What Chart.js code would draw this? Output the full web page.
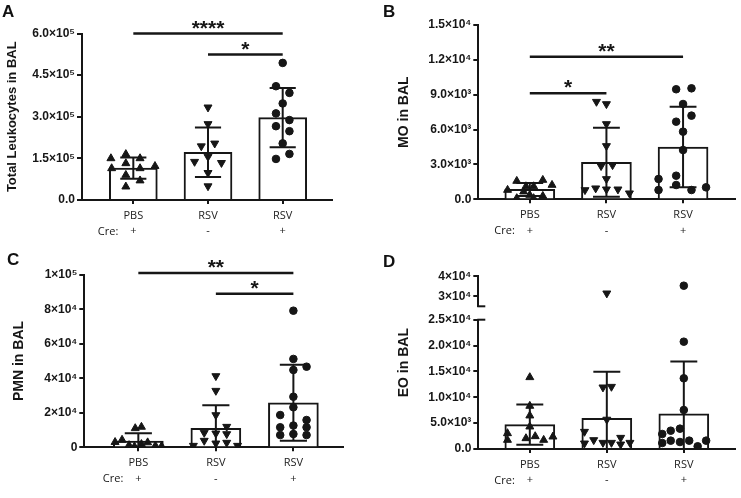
<!DOCTYPE html>
<html lang="en">
<head>
<meta charset="utf-8">
<title>BAL cell counts</title>
<script src="https://cdn.jsdelivr.net/npm/chart.js@4.4.1/dist/chart.umd.min.js"></script>
<style>
  html, body { margin: 0; padding: 0; background: #fff; }
  #fig { position: relative; width: 741px; height: 498px; overflow: hidden; }
  .panel { position: absolute; }
  .letter { position: absolute; font: bold 17px/17px "Liberation Sans", Arial, sans-serif; color: #111; }
</style>
</head>
<body>
<div id="fig">
  <div class="panel" style="left:0;top:0;width:370px;height:248px"><canvas id="chartA"></canvas></div>
  <div class="panel" style="left:370px;top:0;width:371px;height:248px"><canvas id="chartB"></canvas></div>
  <div class="panel" style="left:0;top:248px;width:370px;height:250px"><canvas id="chartC"></canvas></div>
  <div class="panel" style="left:370px;top:248px;width:371px;height:250px"><canvas id="chartD"></canvas></div>
  <div class="letter" style="left:2px;top:3px">A</div>
  <div class="letter" style="left:383px;top:3px">B</div>
  <div class="letter" style="left:7px;top:251px">C</div>
  <div class="letter" style="left:383px;top:253px">D</div>
</div>
<script>
// groups on the x axis
const groupNames = ["PBS", "RSV", "RSV"];
const creRow = ["+", "-", "+"];

// A: total leukocytes
const leukoMean = [115000, 172000, 297000];
const leukoSD = [38000, 89000, 107000];
const leukoPBS = [150000, 165000, 150000, 132000, 114000, 114000, 122000, 90000, 70000, 48000];
const leukoPBSJit = [-0.30, -0.10, 0.09, -0.10, -0.29, 0.09, 0.29, -0.10, 0.09, -0.10];
const leukoRSV = [334000, 274000, 194000, 204000, 156000, 138000, 134000, 98000, 50000];
const leukoRSVJit = [0, 0, -0.09, 0.09, 0, -0.18, 0.18, 0, 0];
const leukoRSVCre = [494000, 410000, 386000, 348000, 312000, 288000, 266000, 248000, 204000, 148000, 166000];
const leukoRSVCreJit = [0, -0.09, 0.09, 0, -0.09, 0.09, -0.09, 0.09, 0, -0.09, 0.09];
const leukoTicks = [0, 150000, 300000, 450000, 600000];
const leukoTickLabels = ["0.0", "1.5×10⁵", "3.0×10⁵", "4.5×10⁵", "6.0×10⁵"];
const leukoSig = [[0, 2, 600000, "****"], [1, 2, 524000, "*"]];

// B: MO
const moMean = [850, 3190, 4500];
const moSD = [560, 2970, 3470];
const moPBS = [1575, 1660, 1230, 1110, 1110, 800, 370, 86, 86, 280, 660];
const moPBSJit = [-0.17, 0.17, 0.29, -0.05, 0.05, -0.29, 0, -0.17, 0.05, 0.17, -0.08];
const moRSV = [8400, 8200, 6480, 4590, 2870, 2950, 1750, 800, 950, 860, 860, 520];
const moRSVJit = [-0.13, 0, 0, 0, -0.07, 0.08, 0, -0.28, -0.14, 0, 0.15, 0.30];
const moRSVCre = [9470, 9550, 8200, 7200, 6680, 5820, 4240, 1750, 2030, 1230, 800, 800, 1030];
const moRSVCreJit = [-0.09, 0.11, 0, 0.11, -0.09, 0, 0, -0.32, -0.09, -0.09, -0.32, 0.11, 0.30];
const moTicks = [0, 3000, 6000, 9000, 12000, 15000];
const moTickLabels = ["0.0", "3.0×10³", "6.0×10³", "9.0×10³", "1.2×10⁴", "1.5×10⁴"];
const moSig = [[0, 2, 12270, "**"], [0, 1, 9120, "*"]];

// C: PMN
const pmnMean = [3650, 11000, 25800];
const pmnSD = [4450, 13300, 22000];
const pmnPBS = [11000, 11800, 4300, 3000, 2800, 1800, 1200, 900, 600, 400];
const pmnPBSJit = [-0.04, 0.04, -0.21, -0.30, 0.12, 0.04, -0.12, 0.22, 0.30, -0.05];
const pmnRSV = [41300, 32800, 18700, 11950, 8460, 8080, 7700, 3860, 2700, 2300, 950, 950];
const pmnRSVJit = [0, 0, 0, 0.14, -0.15, 0, 0.14, -0.15, 0.14, 0, -0.29, 0.28];
const pmnRSVCre = [79150, 51200, 44800, 46700, 29300, 23200, 18700, 15800, 11600, 12600, 11600, 7100, 7700, 7100];
const pmnRSVCreJit = [0, 0, 0, 0.17, 0, 0, -0.17, 0.17, -0.17, 0, 0.17, -0.17, 0, 0.17];
const pmnTicks = [0, 20000, 40000, 60000, 80000, 100000];
const pmnTickLabels = ["0", "2×10⁴", "4×10⁴", "6×10⁴", "8×10⁴", "1×10⁵"];
const pmnSig = [[0, 2, 101000, "**"], [1, 2, 89000, "*"]];

// D: EO (broken axis)
const eoMean = [4700, 5930, 6800];
const eoSD = [3900, 9000, 10100];
const eoPBS = [13860, 8320, 6450, 4320, 3030, 1740, 2060, 2450, 1740, 2380];
const eoPBSJit = [0, 0, 0, 0, -0.29, -0.29, -0.05, 0.07, 0.18, 0.30];
const eoRSV = [31500, 11930, 12050, 5700, 3350, 1740, 1220, 1220, 2190, 900, 1220, 1100];
const eoRSVJit = [0, -0.05, 0.06, 0, -0.29, -0.17, -0.05, 0.06, 0.18, 0.18, 0.30, -0.29];
const eoRSVCre = [35300, 20750, 13670, 7540, 2900, 3540, 3930, 1160, 1610, 1350, 1610, 1610, 520];
const eoRSVCreJit = [0, 0, 0, 0, -0.28, -0.17, -0.05, -0.28, -0.17, -0.05, 0.07, 0.29, 0.18];
const eoTicks = [0, 5000, 10000, 15000, 20000, 25000];
const eoTickLabels = ["0.0", "5.0×10³", "1.0×10⁴", "1.5×10⁴", "2.0×10⁴", "2.5×10⁴"];
const eoTopTicks = [30000, 40000];
const eoTopTickLabels = ["3×10⁴", "4×10⁴"];

const INK = "#161616";
const markers = [
  { style: "triangle", rot: 0, r: 4.6 },
  { style: "triangle", rot: 180, r: 4.6 },
  { style: "circle", rot: 0, r: 3.8 }
];

Chart.defaults.font.family = '"Liberation Sans", Arial, sans-serif';
Chart.defaults.color = INK;

const tickMarks = { drawOnChartArea: false, drawTicks: true, tickLength: 5, color: INK, lineWidth: 2, offset: false };
const axisLine = { display: true, color: INK, width: 2 };
const hidden = {
  type: "linear", position: "left", display: true, min: 0, max: 1,
  ticks: { display: false }, grid: { display: false, drawTicks: false }, border: { display: false }
};

// stars above the brackets, the "Cre:" row label and the axis break marks
const decor = {
  id: "decor",
  afterDatasetsDraw(chart, args, opts) {
    const { ctx, chartArea, scales } = chart;
    const x = scales.x, y = scales.y;
    ctx.save();
    ctx.fillStyle = INK;
    ctx.font = 'bold 21px "Liberation Sans", Arial, sans-serif';
    ctx.textAlign = "center";
    ctx.textBaseline = "alphabetic";
    (opts.sig || []).forEach(s => {
      const px = (x.getPixelForValue(s[0]) + x.getPixelForValue(s[1])) / 2;
      ctx.fillText(s[3], px, y.getPixelForValue(s[2]) + 1);
    });
    ctx.font = '11px "Open Sans", sans-serif';
    ctx.textAlign = "right";
    ctx.textBaseline = "middle";
    ctx.fillText("Cre:", x.getPixelForValue(0) - 15, chartArea.bottom + 32);
    if (scales.yTop) {
      const ax = chartArea.left;
      ctx.strokeStyle = INK;
      ctx.lineWidth = 2;
      [scales.yTop.bottom, y.top].forEach(py => {
        ctx.beginPath();
        ctx.moveTo(ax - 1, py);
        ctx.lineTo(ax + 7, py);
        ctx.stroke();
      });
    }
    ctx.restore();
  }
};

function errorBars(means, sds) {
  const cap = 0.175, pts = [];
  means.forEach((m, i) => {
    const hi = m + sds[i], lo = Math.max(m - sds[i], 0);
    pts.push({ x: i, y: lo }, { x: i, y: hi }, { x: i, y: null });
    pts.push({ x: i - cap, y: hi }, { x: i + cap, y: hi }, { x: i, y: null });
    if (m - sds[i] > 0) pts.push({ x: i - cap, y: lo }, { x: i + cap, y: lo }, { x: i, y: null });
  });
  return pts;
}

function yAxis(vals, labels, extra) {
  return Object.assign({
    type: "linear", position: "left", min: vals[0], max: vals[vals.length - 1],
    afterBuildTicks: s => { s.ticks = vals.map(v => ({ value: v })); },
    ticks: {
      autoSkip: false, padding: 2, color: INK, font: { size: 12, weight: "bold" },
      callback: v => labels[vals.indexOf(v)]
    },
    grid: tickMarks, border: axisLine
  }, extra);
}

function makePanel(id, p) {
  const datasets = [
    { type: "bar", data: p.means.map((m, i) => ({ x: i, y: m })), yAxisID: "y",
      backgroundColor: "#fff", borderColor: INK, borderWidth: 2, barThickness: p.barWidth, order: 4 },
    { type: "line", data: errorBars(p.means, p.sds), yAxisID: "y",
      borderColor: INK, borderWidth: 2, pointRadius: 0, order: 2 }
  ];
  p.groups.forEach((g, gi) => {
    const lower = [], upper = [];
    g[0].forEach((v, k) => {
      const pt = { x: gi + g[1][k], y: v };
      (p.topMin && v > p.topMin ? upper : lower).push(pt);
    });
    [[lower, "y"], [upper, "yTop"]].forEach(([pts, axis]) => {
      if (!pts.length) return;
      datasets.push({
        type: "scatter", data: pts, yAxisID: axis, order: 1,
        pointStyle: markers[gi].style, pointRotation: markers[gi].rot, pointRadius: markers[gi].r,
        pointBackgroundColor: INK, pointBorderColor: INK, pointBorderWidth: 1
      });
    });
  });
  (p.sig || []).forEach(s => datasets.push({
    type: "line", data: [{ x: s[0], y: s[2] }, { x: s[1], y: s[2] }], yAxisID: "y",
    borderColor: INK, borderWidth: 2.5, pointRadius: 0, clip: false, order: 0
  }));

  const a = p.area;
  const title = { display: true, text: p.title, color: INK,
    font: { size: p.titleSize, weight: "bold" }, padding: { top: p.titlePad, bottom: 0 } };
  const scales = {
    x: {
      type: "linear", min: p.xMin, max: p.xMax, offset: false, z: 1,
      afterBuildTicks: s => { s.ticks = groupNames.map((_, i) => ({ value: i })); },
      afterFit: s => { s.height = p.h - a.bottom; },
      ticks: {
        autoSkip: false, maxRotation: 0, padding: 4, color: "#222",
        font: { family: '"Open Sans", sans-serif', size: 11, lineHeight: 1.4 },
        callback: v => [groupNames[v], creRow[v]]
      },
      grid: Object.assign({}, tickMarks, { tickLength: 4 }), border: axisLine
    }
  };
  if (p.topMin) {
    const w = a.left - p.titleWidth;
    scales.y = yAxis(p.ticks, p.tickLabels, { stack: "d", stackWeight: p.weights[2], afterFit: s => { s.width = w; } });
    scales.yGap = Object.assign({}, hidden, { stack: "d", stackWeight: p.weights[1], afterFit: s => { s.width = w; } });
    scales.yTop = yAxis(p.topTicks, p.topTickLabels, { min: p.topMin, stack: "d", stackWeight: p.weights[0], afterFit: s => { s.width = w; } });
    scales.yTitle = Object.assign({}, hidden, { title: title, afterFit: s => { s.width = p.titleWidth; } });
  } else {
    scales.y = yAxis(p.ticks, p.tickLabels, { title: title, afterFit: s => { s.width = a.left; } });
  }

  new Chart(document.getElementById(id), {
    type: "bar",
    data: { datasets: datasets },
    options: {
      responsive: true, maintainAspectRatio: false, animation: false, events: [],
      layout: { padding: { left: 0, top: a.top, right: p.w - a.right, bottom: 0 } },
      scales: scales,
      plugins: { legend: { display: false }, tooltip: { enabled: false }, decor: { sig: p.sig } }
    },
    plugins: [decor]
  });
}

makePanel("chartA", {
  w: 370, h: 248, area: { left: 82, top: 33.5, right: 332, bottom: 200 },
  xMin: -0.687, xMax: 2.66, barWidth: 48,
  means: leukoMean, sds: leukoSD,
  groups: [[leukoPBS, leukoPBSJit], [leukoRSV, leukoRSVJit], [leukoRSVCre, leukoRSVCreJit]],
  ticks: leukoTicks, tickLabels: leukoTickLabels, sig: leukoSig,
  title: "Total Leukocytes in BAL", titleSize: 13, titlePad: 4.7
});

makePanel("chartB", {
  w: 371, h: 248, area: { left: 108.3, top: 25, right: 370, bottom: 199.3 },
  xMin: -0.672, xMax: 2.683, barWidth: 50,
  means: moMean, sds: moSD,
  groups: [[moPBS, moPBSJit], [moRSV, moRSVJit], [moRSVCre, moRSVCreJit]],
  ticks: moTicks, tickLabels: moTickLabels, sig: moSig,
  title: "MO in BAL", titleSize: 14, titlePad: 25.6
});

makePanel("chartC", {
  w: 370, h: 250, area: { left: 84.3, top: 26.7, right: 343, bottom: 199.3 },
  xMin: -0.697, xMax: 2.64, barWidth: 50,
  means: pmnMean, sds: pmnSD,
  groups: [[pmnPBS, pmnPBSJit], [pmnRSV, pmnRSVJit], [pmnRSVCre, pmnRSVCreJit]],
  ticks: pmnTicks, tickLabels: pmnTickLabels, sig: pmnSig,
  title: "PMN in BAL", titleSize: 14, titlePad: 10.6
});

makePanel("chartD", {
  w: 371, h: 250, area: { left: 108.3, top: 28.3, right: 370, bottom: 201 },
  xMin: -0.669, xMax: 2.67, barWidth: 50,
  means: eoMean, sds: eoSD,
  groups: [[eoPBS, eoPBSJit], [eoRSV, eoRSVJit], [eoRSVCre, eoRSVCreJit]],
  ticks: eoTicks, tickLabels: eoTickLabels,
  topMin: 25000, topTicks: eoTopTicks, topTickLabels: eoTopTickLabels, weights: [30, 13.4, 129.3],
  title: "EO in BAL", titleSize: 14, titlePad: 26, titleWidth: 44
});
</script>
</body>
</html>
